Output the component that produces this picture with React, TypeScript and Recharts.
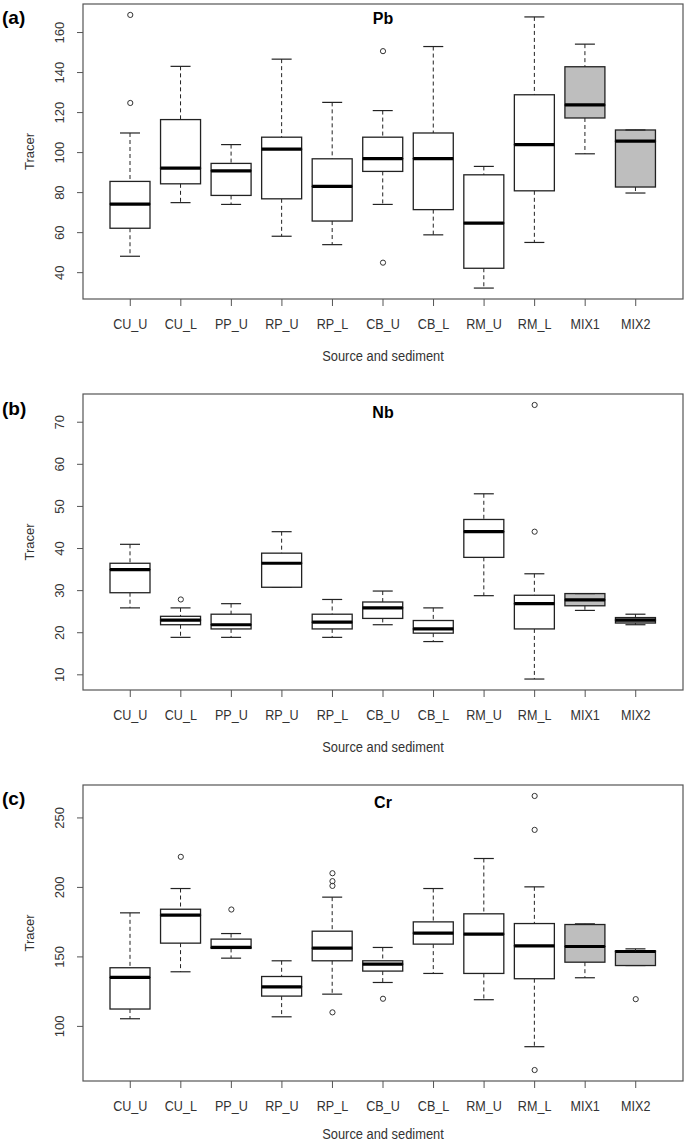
import React from 'react';
import { ComposedChart, Bar, Line, XAxis, YAxis } from 'recharts';

const categories = ['CU_U', 'CU_L', 'PP_U', 'RP_U', 'RP_L', 'CB_U', 'CB_L', 'RM_U', 'RM_L', 'MIX1', 'MIX2'];

// Pb
const pbLow = [48.2, 75.0, 74.1, 58.2, 54.0, 74.1, 58.9, 32.3, 55.1, 99.4, 79.8];
const pbQ1 = [62.2, 84.4, 78.6, 76.9, 65.8, 90.6, 71.5, 42.2, 80.9, 117.3, 82.8];
const pbMedian = [74.3, 92.2, 90.9, 101.7, 83.1, 97.0, 97.0, 64.8, 104.0, 123.8, 105.7];
const pbQ3 = [85.6, 116.5, 94.6, 107.7, 96.9, 107.7, 109.8, 88.9, 128.9, 142.9, 111.3];
const pbHigh = [109.8, 143.1, 104.0, 146.7, 125.1, 121.0, 153.0, 93.1, 167.8, 154.2, 111.3];
const pbOutliers = [[168.8, 124.8], [], [], [], [], [150.7, 45.0], [], [], [], [], []];
const pbTicks = [40, 60, 80, 100, 120, 140, 160];

// Nb
const nbLow = [25.9, 18.9, 18.9, 30.8, 18.9, 21.9, 17.9, 28.8, 9.0, 25.3, 21.9];
const nbQ1 = [29.5, 21.9, 20.9, 30.8, 20.9, 23.4, 19.9, 37.9, 20.9, 26.4, 22.3];
const nbMedian = [35.0, 23.0, 21.9, 36.5, 22.5, 25.9, 20.9, 44.0, 26.9, 27.8, 23.0];
const nbQ3 = [36.5, 23.9, 24.4, 38.9, 24.4, 27.3, 22.9, 46.9, 28.9, 29.3, 23.6];
const nbHigh = [41.0, 25.9, 26.9, 44.0, 27.9, 29.9, 25.9, 53.0, 34.0, 29.3, 24.4];
const nbOutliers = [[], [27.9], [], [], [], [], [], [], [74.1, 44.0], [], []];
const nbTicks = [10, 20, 30, 40, 50, 60, 70];

// Cr
const crLow = [105.5, 139.3, 149.1, 106.9, 123.2, 131.6, 138.1, 119.2, 85.4, 135.0, 143.8];
const crQ1 = [112.5, 159.9, 156.1, 121.8, 147.2, 139.8, 159.2, 138.1, 134.3, 146.2, 143.8];
const crMedian = [135.2, 180.0, 156.8, 128.5, 156.3, 144.8, 167.1, 166.4, 158.0, 157.5, 153.9];
const crQ3 = [142.2, 184.3, 162.8, 135.9, 168.5, 147.2, 175.2, 181.0, 174.0, 173.3, 154.4];
const crHigh = [181.7, 199.2, 166.8, 147.2, 193.0, 156.8, 199.2, 220.8, 200.4, 173.8, 155.8];
const crOutliers = [[], [222.0], [184.1], [], [210.2, 204.5, 201.1, 110.1], [119.9], [], [], [265.8, 241.4, 68.6], [], [119.6]];
const crTicks = [100, 150, 200, 250];

const FONT = '"Liberation Sans", Arial, Helvetica, sans-serif';
const INK = '#222';
const FRAME = '#555';
const MAX_OUT = 4;

function buildRows(low: number[], q1: number[], med: number[], q3: number[], high: number[], outl: number[][]) {
  return categories.map((name, i) => {
    const row: any = {
      name,
      base: low[i],
      w1: q1[i] - low[i],
      b1: med[i] - q1[i],
      b2: q3[i] - med[i],
      w2: high[i] - q3[i],
      mix: name.startsWith('MIX'),
    };
    outl[i].forEach((v, j) => { row['o' + j] = v; });
    return row;
  });
}

// R style axis extension (4% each side)
function rDomain(low: number[], high: number[], outl: number[][]): [number, number] {
  const all = [...low, ...high, ...outl.flat()];
  const lo = Math.min(...all);
  const hi = Math.max(...all);
  const ext = (hi - lo) * 0.04;
  return [lo - ext, hi + ext];
}

const Empty = () => <g />;

const LowerWhisker = (p: any) => {
  const cx = p.x + p.width / 2;
  const bottom = p.y + p.height;
  return (
    <g>
      <line x1={cx} x2={cx} y1={p.y} y2={bottom} stroke={INK} strokeDasharray="4 3" />
      <line x1={cx - p.width / 4} x2={cx + p.width / 4} y1={bottom} y2={bottom} stroke={INK} strokeWidth={1.2} />
    </g>
  );
};

const UpperWhisker = (p: any) => {
  const cx = p.x + p.width / 2;
  return (
    <g>
      <line x1={cx} x2={cx} y1={p.y} y2={p.y + p.height} stroke={INK} strokeDasharray="4 3" />
      <line x1={cx - p.width / 4} x2={cx + p.width / 4} y1={p.y} y2={p.y} stroke={INK} strokeWidth={1.2} />
    </g>
  );
};

const LowerBox = (p: any) => (
  <rect x={p.x} y={p.y} width={p.width} height={Math.max(p.height, 0)}
    fill={p.payload.mix ? '#bebebe' : '#fff'} stroke={INK} strokeWidth={1.3} />
);

const UpperBox = (p: any) => (
  <g>
    <rect x={p.x} y={p.y} width={p.width} height={Math.max(p.height, 0)}
      fill={p.payload.mix ? '#bebebe' : '#fff'} stroke={INK} strokeWidth={1.3} />
    <line x1={p.x} x2={p.x + p.width} y1={p.y + p.height} y2={p.y + p.height} stroke="#000" strokeWidth={3.2} />
  </g>
);

const OutlierDot = (p: any) => {
  if (p.value == null || p.cy == null || isNaN(p.cy)) return <g key={p.key} />;
  return <circle key={p.key} cx={p.cx} cy={p.cy} r={2.6} fill="none" stroke="#333" strokeWidth={1} />;
};

const YTick = (p: any) => (
  <text x={p.x} y={p.y} transform={`rotate(-90 ${p.x} ${p.y})`} textAnchor="middle" dominantBaseline="central"
    fontSize={13} fill="#333" fontFamily={FONT}>
    {p.payload.value}
  </text>
);

const XTick = (p: any) => (
  <g transform={`translate(${p.x},${p.y})`}>
    <text x={0} y={0} dy={21} transform="scale(0.9,1)" textAnchor="middle" fontSize={14} fill="#333" fontFamily={FONT}>
      {p.payload.value}
    </text>
  </g>
);

const XTitle = (p: any) => {
  const vb = p.viewBox || { x: 83, y: 0, width: 600 };
  const cx = vb.x + vb.width / 2;
  const off = p.offsetY ?? 62;
  return (
    <g transform={`translate(${cx},${vb.y + off})`}>
      <text x={0} y={0} transform="scale(0.92,1)" textAnchor="middle" fontSize={14} fill="#333" fontFamily={FONT}>
        Source and sediment
      </text>
    </g>
  );
};

const YTitle = (p: any) => {
  const vb = p.viewBox || { x: 0, y: 0, height: 296 };
  const cy = vb.y + vb.height / 2;
  const x = vb.x + 29;
  return (
    <text x={x} y={cy} transform={`rotate(-90 ${x} ${cy})`} textAnchor="middle" dominantBaseline="central"
      fontSize={13} fill="#333" fontFamily={FONT}>
      Tracer
    </text>
  );
};

interface PanelProps {
  tag: string;
  title: string;
  rows: any[];
  domain: [number, number];
  ticks: number[];
  top: number;
  height: number;
  plotTop: number;
  plotHeight: number;
  tagY: number;
  titleY: number;
  xTitleOffset: number;
}

const PLOT_LEFT = 83;
const PLOT_WIDTH = 600;

const Panel: React.FC<PanelProps> = ({ tag, title, rows, domain, ticks, top, height, plotTop, plotHeight, tagY, titleY, xTitleOffset }) => {
  const xAxisHeight = height - plotTop - plotHeight;
  return (
    <div style={{ position: 'absolute', left: 0, top, width: 685, height }}>
      <ComposedChart width={685} height={height} data={rows}
        margin={{ top: plotTop, right: 685 - PLOT_LEFT - PLOT_WIDTH, bottom: 0, left: 0 }}>
        <XAxis dataKey="name" type="category" height={xAxisHeight} padding={{ left: 22, right: 22 }}
          axisLine={false} tickLine={{ stroke: FRAME }} tickSize={7} tick={<XTick />} interval={0}
          label={<XTitle offsetY={xTitleOffset} />} />
        <YAxis type="number" domain={domain} allowDataOverflow ticks={ticks} width={PLOT_LEFT}
          axisLine={false} tickLine={{ stroke: FRAME }} tickSize={6} tickMargin={17} tick={<YTick />}
          label={<YTitle />} />
        <Bar dataKey="base" stackId="box" barSize={40} shape={<Empty />} isAnimationActive={false} />
        <Bar dataKey="w1" stackId="box" barSize={40} shape={<LowerWhisker />} isAnimationActive={false} />
        <Bar dataKey="b1" stackId="box" barSize={40} shape={<LowerBox />} isAnimationActive={false} />
        <Bar dataKey="b2" stackId="box" barSize={40} shape={<UpperBox />} isAnimationActive={false} />
        <Bar dataKey="w2" stackId="box" barSize={40} shape={<UpperWhisker />} isAnimationActive={false} />
        {Array.from({ length: MAX_OUT }, (_, j) => (
          <Line key={j} dataKey={'o' + j} stroke="none" dot={(d: any) => <OutlierDot {...d} key={`o${j}-${d.index}`} />}
            activeDot={false} connectNulls={false} isAnimationActive={false} legendType="none" />
        ))}
      </ComposedChart>
      <svg width={685} height={height} style={{ position: 'absolute', left: 0, top: 0, pointerEvents: 'none' }}>
        <rect x={PLOT_LEFT} y={plotTop} width={PLOT_WIDTH} height={plotHeight} fill="none" stroke={FRAME} strokeWidth={1.2} />
        <text x={2} y={tagY} fontSize={19} fontWeight="bold" fill="#000" fontFamily={FONT}>{tag}</text>
        <text x={PLOT_LEFT + PLOT_WIDTH / 2} y={titleY} textAnchor="middle" fontSize={16} fontWeight="bold" fill="#000" fontFamily={FONT}>{title}</text>
      </svg>
    </div>
  );
};

export default function App() {
  return (
    <div style={{ position: 'relative', width: 685, height: 1144, background: '#fff' }}>
      <style>{'body{margin:0}'}</style>
      <Panel tag="(a)" title="Pb" rows={buildRows(pbLow, pbQ1, pbMedian, pbQ3, pbHigh, pbOutliers)}
        domain={rDomain(pbLow, pbHigh, pbOutliers)} ticks={pbTicks}
        top={0} height={380} plotTop={4} plotHeight={295} tagY={24} titleY={24} xTitleOffset={62} />
      <Panel tag="(b)" title="Nb" rows={buildRows(nbLow, nbQ1, nbMedian, nbQ3, nbHigh, nbOutliers)}
        domain={rDomain(nbLow, nbHigh, nbOutliers)} ticks={nbTicks}
        top={390} height={380} plotTop={4} plotHeight={296} tagY={25} titleY={28} xTitleOffset={62} />
      <Panel tag="(c)" title="Cr" rows={buildRows(crLow, crQ1, crMedian, crQ3, crHigh, crOutliers)}
        domain={rDomain(crLow, crHigh, crOutliers)} ticks={crTicks}
        top={780} height={364} plotTop={5} plotHeight={296} tagY={25} titleY={28} xTitleOffset={58} />
    </div>
  );
}
